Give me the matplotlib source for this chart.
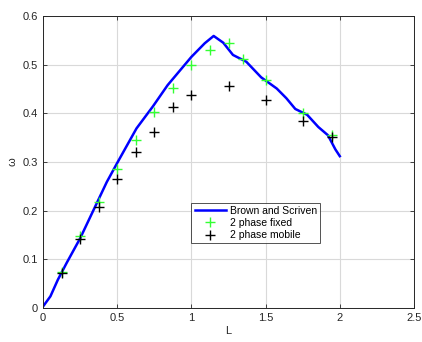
import numpy as np
import matplotlib
matplotlib.use('Agg')
import matplotlib.pyplot as plt

plt.rcParams['font.family'] = ['Liberation Sans', 'DejaVu Sans']

# Brown and Scriven reference curve
L_bs = [0, 0.05, 0.10, 0.16, 0.25, 0.34, 0.43, 0.50, 0.63, 0.74, 0.84, 1.00,
        1.09, 1.15, 1.215, 1.28, 1.37, 1.47, 1.575, 1.64, 1.70, 1.78, 1.855,
        1.92, 1.97, 2.00]
w_bs = [0.003, 0.024, 0.058, 0.093, 0.143, 0.201, 0.259, 0.298, 0.369, 0.414,
        0.458, 0.516, 0.544, 0.559, 0.545, 0.520, 0.506, 0.474, 0.451, 0.431,
        0.409, 0.397, 0.372, 0.355, 0.326, 0.312]

# two-phase model, fixed
L_fixed = [0.125, 0.25, 0.375, 0.5, 0.625, 0.75, 0.875, 1.0, 1.125, 1.25,
           1.35, 1.5, 1.75, 1.95]
w_fixed = [0.075, 0.147, 0.217, 0.285, 0.345, 0.402, 0.453, 0.499, 0.531,
           0.544, 0.512, 0.468, 0.400, 0.356]

# two-phase model, mobile
L_mobile = [0.125, 0.25, 0.375, 0.5, 0.625, 0.75, 0.875, 1.0, 1.25, 1.5,
            1.75, 1.95]
w_mobile = [0.071, 0.141, 0.207, 0.266, 0.321, 0.361, 0.413, 0.438, 0.457,
            0.427, 0.384, 0.351]

fig = plt.figure(figsize=(4.22, 3.42), dpi=100)
ax = fig.add_axes([43 / 422, 1 - 308 / 342, 371 / 422, 292 / 342])

ax.plot(L_bs, w_bs, '-', color='#0000ff', linewidth=1.8, label='Brown and Scriven')
ax.plot(L_fixed, w_fixed, '+', color='#33ff33', markersize=7, markeredgewidth=1.0,
        linestyle='none', label='2 phase fixed')
ax.plot(L_mobile, w_mobile, '+', color='black', markersize=7, markeredgewidth=1.0,
        linestyle='none', label='2 phase mobile')

ax.set_xlim(0, 2.5)
ax.set_ylim(0, 0.6)
ax.set_xticks(np.arange(0, 2.51, 0.5))
ax.set_yticks(np.arange(0, 0.61, 0.1))
ax.set_xticklabels(['0', '0.5', '1', '1.5', '2', '2.5'])
ax.set_yticklabels(['0', '0.1', '0.2', '0.3', '0.4', '0.5', '0.6'])
ax.grid(True, color='#d9d9d9', linewidth=0.8)
ax.set_axisbelow(True)
ax.tick_params(direction='in', top=True, right=True, labelsize=8,
               colors='#262626', length=3, width=0.6)
for s in ax.spines.values():
    s.set_color('#262626')
    s.set_linewidth(0.7)

ax.set_xlabel('L', fontsize=8, color='#262626', labelpad=2)
ax.set_ylabel('ω', fontsize=8, color='#262626', labelpad=4)

leg = ax.legend(loc='upper left', bbox_to_anchor=(0.40, 0.36), fontsize=7.5,
                frameon=True, fancybox=False, edgecolor='#262626',
                borderpad=0.3, labelspacing=0.2, handlelength=3.0,
                handletextpad=0.4, borderaxespad=0)
leg.get_frame().set_linewidth(0.7)

fig.savefig('out.png', dpi=100)
